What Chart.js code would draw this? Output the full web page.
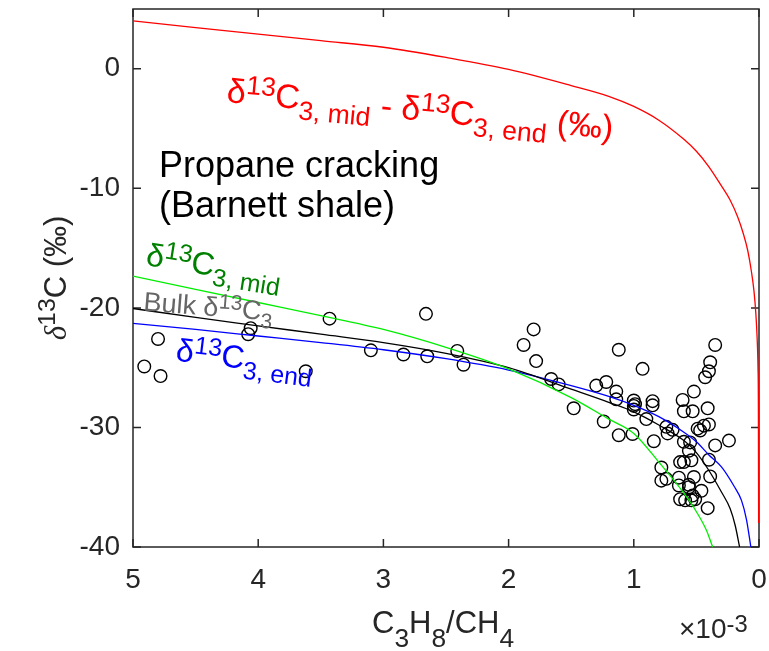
<!DOCTYPE html>
<html lang="en">
<head>
  <meta charset="UTF-8">
  <title>Propane cracking</title>
  <script src="https://cdn.jsdelivr.net/npm/chart.js"></script>
  <style>
    body { margin: 0; background: #fff; }
    #wrap { width: 769px; height: 651px; }
  </style>
</head>
<body>
  <div id="wrap"><canvas id="chart" width="769" height="651"></canvas></div>
  <script>
    // x values are C3H8/CH4 in units of 1e-3
    const xTicks = [5, 4, 3, 2, 1, 0];
    const yTicks = [-40, -30, -20, -10, 0];

    const sampleX = [4.91, 4.80, 4.78, 4.06, 4.08, 3.62, 3.43, 3.10, 2.84, 2.66, 2.65, 2.41, 2.36,
      1.80, 1.88, 1.78, 1.66, 1.60, 1.48, 1.30, 1.22, 1.24, 1.12, 1.14, 1.14, 1.12, 1.01, 1.00,
      0.99, 1.00, 0.93, 0.85, 0.85, 0.90, 0.84, 0.74, 0.69, 0.73, 0.78, 0.78, 0.74, 0.61, 0.52,
      0.60, 0.53, 0.41, 0.47, 0.44, 0.40, 0.35, 0.39, 0.40, 0.43, 0.24, 0.35, 0.40, 0.39, 0.41,
      0.60, 0.55, 0.56, 0.63, 0.60, 0.54, 0.64, 0.52, 0.56, 0.64, 0.46, 0.53, 0.63, 0.59, 0.54,
      0.56, 0.51, 0.49, 1.00];
    const sampleY = [-24.9, -22.6, -25.7, -21.7, -22.2, -25.3, -20.9, -23.55, -23.9, -20.5, -24.05, -23.6, -24.75,
      -21.8, -23.1, -24.45, -25.95, -26.4, -28.4, -26.5, -26.2, -29.5, -23.5, -27.0, -27.65, -30.65, -30.55, -27.75,
      -28.05, -28.5, -25.1, -27.8, -28.15, -29.3, -31.15, -29.95, -30.2, -30.5, -33.35, -34.45, -34.3, -27.7, -27.0,
      -28.65, -28.65, -28.4, -30.25, -29.85, -29.75, -23.1, -24.55, -25.3, -25.8, -31.1, -31.5, -32.7, -34.1, -36.75,
      -31.2, -31.25, -31.95, -32.9, -32.9, -32.75, -34.2, -34.15, -34.8, -34.85, -35.3, -35.7, -36.0, -36.1, -36.1,
      -35.0, -36.0, -30.1, -28.2];

    const diffX = [5, 4.5, 4, 3.5, 3, 2.5, 2, 1.5, 1.2, 1, 0.8, 0.6, 0.5, 0.4, 0.3, 0.23, 0.17, 0.125,
      0.09, 0.06, 0.04, 0.025, 0.015, 0.008, 0.005, 0.003];
    const diffY = [4.0, 3.45, 2.9, 2.35, 1.8, 0.95, -0.05, -1.4, -2.3, -3.15, -4.3, -5.9, -6.9, -8.2, -9.8, -11.0,
      -12.4, -13.8, -15.2, -17.0, -18.6, -20.5, -22.5, -25.0, -28.0, -38.0];

    const midX = [5, 4.5, 4, 3.5, 3, 2.5, 2, 1.5, 1.2, 1, 0.8, 0.6, 0.5, 0.42, 0.37];
    const midY = [-17.35, -18.45, -19.55, -20.65, -21.8, -23.3, -25.1, -27.5, -29.3, -30.5, -32.9, -35.5, -37.05, -38.6, -40];

    const bulkX = [5, 4.5, 4, 3.5, 3, 2.5, 2, 1.5, 1.2, 1, 0.8, 0.6, 0.5, 0.4, 0.3, 0.23, 0.19, 0.155];
    const bulkY = [-20.05, -20.8, -21.5, -22.2, -22.9, -23.8, -25.0, -26.8, -27.9, -28.7, -29.8, -31.1, -32.1,
      -33.6, -35.4, -36.8, -38.2, -40];

    const endX = [5, 4.5, 4, 3.5, 3, 2.5, 2, 1.5, 1.2, 1, 0.8, 0.6, 0.5, 0.4, 0.3, 0.2, 0.14, 0.1, 0.065];
    const endY = [-21.3, -21.8, -22.35, -22.9, -23.5, -24.25, -25.2, -26.5, -27.4, -28.15, -29.1, -30.4, -31.2,
      -32.3, -33.3, -34.9, -36.1, -37.7, -40];

    const FONT = '"Liberation Sans", Arial, sans-serif';
    const AXIS = '#262626';

    const pts = (xs, ys) => xs.map((x, i) => ({ x: x, y: ys[i] }));
    const curve = (xs, ys, color) => ({
      data: pts(xs, ys),
      showLine: true,
      borderColor: color,
      borderWidth: 1.3,
      pointRadius: 0,
      cubicInterpolationMode: 'monotone',
      fill: false
    });

    // text with super/subscripts, optionally rotated round its start point
    function richText(ctx, x, y, size, color, parts, angle, opt) {
      opt = opt || {};
      const supS = opt.supS || 0.78, subS = opt.subS || 0.78;
      const supDy = opt.supDy !== undefined ? opt.supDy : -0.3;
      const subDy = opt.subDy !== undefined ? opt.subDy : 0.3;
      const fontOf = p => {
        const s = p[1] === 'sup' ? size * supS : p[1] === 'sub' ? size * subS : size;
        return (p[2] ? 'italic ' : '') + s + 'px ' + (p[3] || FONT);
      };
      ctx.save();
      ctx.translate(x, y);
      ctx.rotate((angle || 0) * Math.PI / 180);
      ctx.fillStyle = color;
      ctx.textBaseline = 'alphabetic';
      ctx.textAlign = 'left';
      let total = 0;
      parts.forEach(p => { ctx.font = fontOf(p); total += ctx.measureText(p[0]).width; });
      let cx = opt.center ? -total / 2 : 0;
      parts.forEach(p => {
        ctx.font = fontOf(p);
        const dy = p[1] === 'sup' ? supDy * size : p[1] === 'sub' ? subDy * size : 0;
        ctx.fillText(p[0], cx, dy);
        cx += ctx.measureText(p[0]).width;
      });
      ctx.restore();
    }

    const frame = {
      id: 'frame',
      beforeDatasetsDraw(chart) {
        const { ctx, chartArea: a, scales } = chart;
        ctx.save();
        ctx.strokeStyle = AXIS;
        ctx.lineWidth = 1.5;
        ctx.strokeRect(a.left, a.top, a.right - a.left, a.bottom - a.top);
        ctx.beginPath();
        xTicks.forEach(v => {
          const px = scales.x.getPixelForValue(v);
          ctx.moveTo(px, a.bottom); ctx.lineTo(px, a.bottom - 8);
          ctx.moveTo(px, a.top); ctx.lineTo(px, a.top + 8);
        });
        yTicks.forEach(v => {
          const py = scales.y.getPixelForValue(v);
          ctx.moveTo(a.left, py); ctx.lineTo(a.left + 8, py);
          ctx.moveTo(a.right, py); ctx.lineTo(a.right - 8, py);
        });
        ctx.stroke();
        ctx.restore();
      },
      afterDraw(chart) {
        const ctx = chart.ctx;
        richText(ctx, 226, 102, 34, '#ff0000', [
          ['δ', 'n'], ['13', 'sup'], ['C', 'n'], ['3, mid', 'sub'], [' - δ', 'n'], ['13', 'sup'],
          ['C', 'n'], ['3, end', 'sub'], [' (‰)', 'n']], 5.5);
        ctx.save();
        ctx.fillStyle = '#000';
        ctx.font = '36px ' + FONT;
        ctx.fillText('Propane cracking', 159, 177);
        ctx.fillText('(Barnett shale)', 159, 217);
        ctx.restore();
        richText(ctx, 145, 265, 32, '#008000', [
          ['δ', 'n'], ['13', 'sup'], ['C', 'n'], ['3, mid', 'sub']], 9);
        richText(ctx, 143, 310.5, 27, '#666666', [
          ['Bulk δ', 'n'], ['13', 'sup'], ['C', 'n'], ['3', 'sub']], 4.5);
        richText(ctx, 175, 360.5, 32, '#0000ff', [
          ['δ', 'n'], ['13', 'sup'], ['C', 'n'], ['3, end', 'sub']], 7);
        // axis labels
        richText(ctx, 372, 633, 31, AXIS, [
          ['C', 'n'], ['3', 'sub'], ['H', 'n'], ['8', 'sub'], ['/CH', 'n'], ['4', 'sub']], 0,
          { subS: 0.85, subDy: 0.45 });
        richText(ctx, 679, 638, 28, AXIS, [['×', 'n'], ['10', 'n'], ['-3', 'sup']], 0,
          { supS: 0.85, supDy: -0.22 });
        richText(ctx, 66, 278, 31, AXIS, [
          ['δ', 'n', true, '"Liberation Serif", serif'], ['13', 'sup'], ['C', 'n'], [' (‰)', 'n']], -90,
          { center: true, supS: 0.8, supDy: -0.35 });
      }
    };

    new Chart(document.getElementById('chart'), {
      type: 'scatter',
      data: {
        datasets: [
          curve(diffX, diffY, '#ff0000'),
          curve(midX, midY, '#00ee00'),
          curve(bulkX, bulkY, '#000000'),
          curve(endX, endY, '#0000ff'),
          {
            data: pts(sampleX, sampleY),
            pointStyle: 'circle',
            pointRadius: 6.3,
            borderColor: '#000',
            borderWidth: 1.4,
            backgroundColor: 'rgba(0,0,0,0)'
          }
        ]
      },
      options: {
        responsive: false,
        animation: false,
        layout: { padding: { top: 9, right: 10, left: 0, bottom: 0 } },
        plugins: { legend: { display: false }, tooltip: { enabled: false } },
        scales: {
          x: {
            type: 'linear', reverse: true, min: 0, max: 5,
            grid: { display: false, drawTicks: false },
            border: { display: false },
            afterBuildTicks: s => { s.ticks = xTicks.map(v => ({ value: v })); },
            afterFit: s => { s.height = 104; s.paddingLeft = 0; s.paddingRight = 0; },
            ticks: { color: AXIS, font: { family: FONT, size: 28 }, padding: 16, maxRotation: 0 }
          },
          y: {
            type: 'linear', min: -40, max: 5,
            grid: { display: false, drawTicks: false },
            border: { display: false },
            afterBuildTicks: s => { s.ticks = yTicks.map(v => ({ value: v })); },
            afterFit: s => { s.width = 133; s.paddingTop = 0; s.paddingBottom = 0; },
            ticks: { color: AXIS, font: { family: FONT, size: 28 }, padding: 13 }
          }
        }
      },
      plugins: [frame]
    });
  </script>
</body>
</html>
